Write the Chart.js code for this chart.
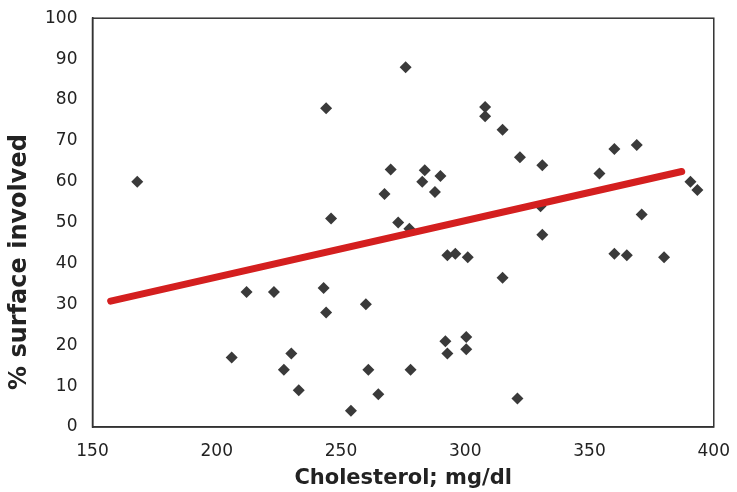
<!DOCTYPE html>
<html>
<head>
<meta charset="utf-8">
<script src="https://cdn.jsdelivr.net/npm/chart.js@4"></script>
<style>
  html, body { margin: 0; padding: 0; background: #fff; }
  #wrap { width: 737px; height: 492px; }
</style>
</head>
<body>
<div id="wrap"><canvas id="chart"></canvas></div>
<script>
// Данные
const cholesterol = [168, 206, 212, 223, 227, 230, 233, 243, 244, 244, 246, 254, 260, 261, 265, 267.5, 270, 273, 276, 277.5,
  278, 282.7, 283.7, 287.8, 290, 292, 292.8, 292.8, 296, 300.4, 300.4, 301, 308, 308, 315, 315, 321, 322, 330.3, 331,
  331, 354, 360, 360, 365, 369, 371, 380, 390.6, 393.4];
const surface = [60, 17, 33, 33, 14, 18, 9, 34, 28, 78, 51, 4, 30, 14, 8, 57, 63, 50, 88, 48.5,
  14, 60, 62.8, 57.5, 61.4, 21, 18, 42, 42.4, 22, 19, 41.5, 78.3, 76, 72.7, 36.5, 7, 66, 54, 64,
  47, 62, 68, 42.4, 42, 69, 52, 41.5, 60, 58];
// Линия тренда
const trendX = [157.3, 387.1];
const trendY = [30.8, 62.5];

const xTicks = [150, 200, 250, 300, 350, 400];
const yTicks = [0, 10, 20, 30, 40, 50, 60, 70, 80, 90, 100];
const yTitle = "% surface involved";

const FONT = "DejaVu Sans, Verdana, sans-serif";

// Рамка вокруг области графика и подпись оси Y (смещена вниз, как в оригинале)
const frame = {
  id: "frame",
  afterDatasetsDraw(chart) {
    const { ctx, chartArea: a } = chart;
    ctx.save();
    ctx.strokeStyle = "#333";
    ctx.lineWidth = 1.5;
    ctx.strokeRect(a.left, a.top, a.right - a.left, a.bottom - a.top);
    ctx.translate(20, 262);
    ctx.rotate(-Math.PI / 2);
    ctx.fillStyle = "#222";
    ctx.font = "bold 24px " + FONT;
    ctx.textAlign = "center";
    ctx.textBaseline = "middle";
    ctx.fillText(yTitle, 0, 0);
    ctx.restore();
  },
};

const ctx = document.getElementById("chart").getContext("2d");
new Chart(ctx, {
  type: "scatter",
  data: {
    datasets: [
      {
        label: "points",
        data: cholesterol.map((x, i) => ({ x, y: surface[i] })),
        pointStyle: "rectRot",
        pointRadius: 6,
        backgroundColor: "#3a3a3a",
        borderColor: "#3a3a3a",
        borderWidth: 0,
        order: 2,
      },
      {
        label: "trend",
        type: "line",
        data: trendX.map((x, i) => ({ x, y: trendY[i] })),
        borderColor: "#d41f1f",
        borderWidth: 7,
        borderCapStyle: "round",
        pointRadius: 0,
        fill: false,
        order: 1,
      },
    ],
  },
  options: {
    responsive: true,
    maintainAspectRatio: false,
    animation: false,
    layout: { padding: { top: 15, right: 22, left: 0, bottom: 0 } },
    plugins: { legend: { display: false }, tooltip: { enabled: false } },
    scales: {
      x: {
        type: "linear",
        min: 150,
        max: 400,
        afterBuildTicks: (s) => { s.ticks = xTicks.map((v) => ({ value: v })); },
        afterFit: (s) => { s.height = 65; },
        grid: { display: false, drawOnChartArea: false, drawTicks: true, tickLength: 7, tickColor: "#333", tickWidth: 1.5 },
        border: { display: true, color: "#333", width: 1.5 },
        ticks: { color: "#222", padding: 7, font: { family: FONT, size: 17 } },
        title: {
          display: true,
          text: "Cholesterol; mg/dl",
          color: "#222",
          padding: { top: 0, bottom: 1 },
          font: { family: FONT, size: 21, weight: "bold" },
        },
      },
      y: {
        type: "linear",
        min: 0,
        max: 100,
        afterBuildTicks: (s) => { s.ticks = yTicks.map((v) => ({ value: v })); },
        afterFit: (s) => { s.width = 92.5; },
        grid: { display: false, drawOnChartArea: false, drawTicks: true, tickLength: 7, tickColor: "#333", tickWidth: 1.5 },
        border: { display: true, color: "#333", width: 1.5 },
        ticks: { color: "#222", padding: 8, font: { family: FONT, size: 17 } },
        title: { display: false },
      },
    },
  },
  plugins: [frame],
});
</script>
</body>
</html>
